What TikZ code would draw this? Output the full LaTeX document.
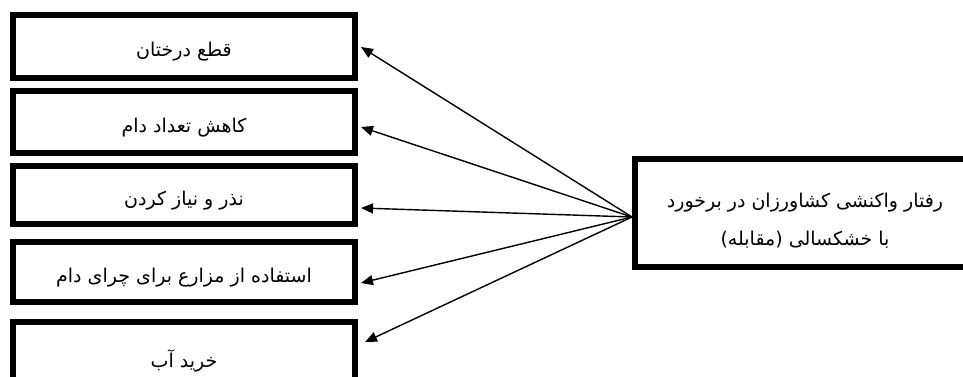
\documentclass[tikz,border=0pt]{standalone}
\usepackage{fontspec}
\usetikzlibrary{arrows.meta}
\newfontfamily\arabicfont[Script=Arabic]{DejaVu Sans}
\TeXXeTstate=1
\begin{document}
\begin{tikzpicture}[x=1pt,y=-1pt,
  optbox/.style={draw,line width=6pt,minimum width=342pt,inner sep=0pt,
    text height=20pt,text depth=0pt,
    font=\arabicfont\fontsize{19}{22}\selectfont},
  mainbox/.style={draw,line width=6pt,minimum width=340pt,minimum height=108pt,inner sep=0pt,
    text height=64pt,text depth=0pt,
    align=center,font=\arabicfont\fontsize{19}{38}\selectfont},
  conn/.style={line width=1.4pt,-{Triangle[length=12pt,width=10pt]}}]
\useasboundingbox (0,0) rectangle (963,376);
\node[optbox,minimum height=63pt] (b1) at (184,46.5) {\beginR قطع درختان\endR};
\node[optbox,minimum height=62pt] (b2) at (184,122) {\beginR کاهش تعداد دام\endR};
\node[optbox,minimum height=58pt] (b3) at (184,195) {\beginR نذر و نیاز کردن\endR};
\node[optbox,minimum height=60pt] (b4) at (184,272) {\beginR استفاده از مزارع برای چرای دام\endR};
\node[optbox,minimum height=66pt,text height=24pt] (b5) at (184,355) {\beginR خرید آب\endR};
\node[mainbox] (m) at (805,213) {\beginR رفتار واکنشی کشاورزان در برخورد\endR\\\beginR با خشکسالی (مقابله)\endR};
\coordinate (src) at ([yshift=-4pt]m.west);
\draw[conn] (src) -- ([yshift=-0.5pt,xshift=3pt]b1.east);
\draw[conn] (src) -- ([yshift=-5pt,xshift=3pt]b2.east);
\draw[conn] (src) -- ([yshift=-13pt,xshift=3pt]b3.east);
\draw[conn] (src) -- ([yshift=-11pt,xshift=3pt]b4.east);
\draw[conn] (src) -- ([yshift=13pt,xshift=7pt]b5.east);
\end{tikzpicture}
\end{document}
